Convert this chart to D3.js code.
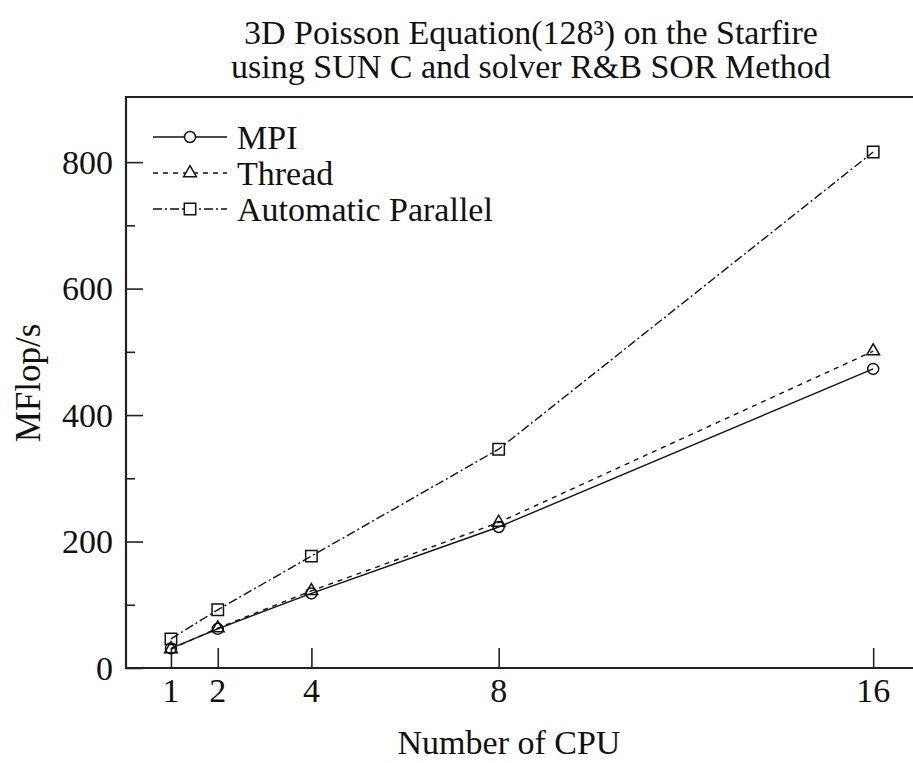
<!DOCTYPE html>
<html>
<head>
<meta charset="utf-8">
<script src="https://cdn.jsdelivr.net/npm/d3@7"></script>
<style>
  body { margin: 0; background: #fff; }
  text { font-family: "Liberation Serif", "Times New Roman", serif; fill: #111; }
</style>
</head>
<body>
<div id="chart"></div>
<script>

var cpus = [1, 2, 4, 8, 16];
var mpi = [31, 62, 118, 223, 473];
var thread = [30, 63, 122, 230, 501];
var autoPar = [46, 92, 177, 346, 816];
var yTicks = [0, 200, 400, 600, 800];
var yMinor = [100, 300, 500, 700];
var titleLines = ["3D Poisson Equation(128\u00B3) on the Starfire", "using SUN C and solver R&B SOR Method"];

var series = [
  { name: "MPI", values: mpi, dash: null, symbol: d3.symbolCircle, size: 95 },
  { name: "Thread", values: thread, dash: "5,5", symbol: d3.symbolTriangle, size: 70 },
  { name: "Automatic Parallel", values: autoPar, dash: "9,3,2,3", symbol: d3.symbolSquare, size: 130 }
];

var width = 913, height = 763;
var plot = { left: 126, right: 920, top: 97, bottom: 668 };

var svg = d3.select("#chart")
  .append("svg")
  .attr("width", width)
  .attr("height", height);

var xScale = d3.scaleLinear()
  .domain([0.04, 17])
  .range([plot.left, plot.right]);

var yScale = d3.scaleLinear()
  .domain([0, 903])
  .range([plot.bottom, plot.top]);

// frame (no right side, it runs off the picture)
svg.append("path")
  .attr("d", "M" + plot.right + "," + plot.top + "H" + plot.left + "V" + plot.bottom + "H" + plot.right)
  .attr("fill", "none")
  .attr("stroke", "#222")
  .attr("stroke-width", 2.2);

// x ticks point up into the plot
var xAxis = d3.axisTop(xScale).tickValues(cpus).tickSize(20).tickFormat("");
svg.append("g")
  .attr("transform", "translate(0," + plot.bottom + ")")
  .call(xAxis)
  .call(function (g) {
    g.select(".domain").remove();
    g.selectAll("line").attr("stroke", "#222").attr("stroke-width", 1.6);
  });

svg.selectAll(".xlab")
  .data(cpus).enter()
  .append("text")
  .attr("class", "xlab")
  .attr("x", function (d) { return xScale(d); })
  .attr("y", 702)
  .attr("text-anchor", "middle")
  .style("font-size", "34px")
  .text(function (d) { return d; });

// y ticks point right into the plot
var yAxis = d3.axisRight(yScale).tickValues(yTicks).tickSize(17).tickFormat("");
svg.append("g")
  .attr("transform", "translate(" + plot.left + ",0)")
  .call(yAxis)
  .call(function (g) {
    g.select(".domain").remove();
    g.selectAll("line").attr("stroke", "#222").attr("stroke-width", 1.6);
  });

var yAxisMinor = d3.axisRight(yScale).tickValues(yMinor).tickSize(9).tickFormat("");
svg.append("g")
  .attr("transform", "translate(" + plot.left + ",0)")
  .call(yAxisMinor)
  .call(function (g) {
    g.select(".domain").remove();
    g.selectAll("line").attr("stroke", "#222").attr("stroke-width", 1.6);
  });

svg.selectAll(".ylab")
  .data(yTicks).enter()
  .append("text")
  .attr("class", "ylab")
  .attr("x", 113)
  .attr("y", function (d) { return yScale(d); })
  .attr("dy", "0.34em")
  .attr("text-anchor", "end")
  .style("font-size", "34px")
  .text(function (d) { return d; });

// axis titles
svg.append("text")
  .attr("x", 509)
  .attr("y", 754)
  .attr("text-anchor", "middle")
  .style("font-size", "34px")
  .text("Number of CPU");

svg.append("text")
  .attr("transform", "rotate(-90)")
  .attr("x", -383)
  .attr("y", 40)
  .attr("text-anchor", "middle")
  .style("font-size", "35px")
  .text("MFlop/s");

// title
svg.selectAll(".title")
  .data(titleLines).enter()
  .append("text")
  .attr("class", "title")
  .attr("x", 531)
  .attr("y", function (d, i) { return 44 + i * 34; })
  .attr("text-anchor", "middle")
  .style("font-size", "34px")
  .text(function (d) { return d; });

// lines and markers
var line = d3.line()
  .x(function (d, i) { return xScale(cpus[i]); })
  .y(function (d) { return yScale(d); });

series.forEach(function (s) {
  svg.append("path")
    .attr("d", line(s.values))
    .attr("fill", "none")
    .attr("stroke", "#111")
    .attr("stroke-width", 1.4)
    .attr("stroke-dasharray", s.dash);

  svg.selectAll(null)
    .data(s.values).enter()
    .append("path")
    .attr("d", d3.symbol().type(s.symbol).size(s.size))
    .attr("transform", function (d, i) { return "translate(" + xScale(cpus[i]) + "," + yScale(d) + ")"; })
    .attr("fill", "none")
    .attr("stroke", "#111")
    .attr("stroke-width", 1.5);
});

// legend
var legend = svg.append("g").attr("transform", "translate(153,137)");
series.forEach(function (s, i) {
  var row = legend.append("g").attr("transform", "translate(0," + (i * 36) + ")");
  row.append("line")
    .attr("x1", 0).attr("x2", 74)
    .attr("stroke", "#111")
    .attr("stroke-width", 1.4)
    .attr("stroke-dasharray", s.dash);
  row.append("path")
    .attr("d", d3.symbol().type(s.symbol).size(s.size))
    .attr("transform", "translate(37,0)")
    .attr("fill", "#fff")
    .attr("stroke", "#111")
    .attr("stroke-width", 1.5);
  row.append("text")
    .attr("x", 84)
    .attr("y", 12)
    .style("font-size", "34px")
    .text(s.name);
});

</script>
</body>
</html>
